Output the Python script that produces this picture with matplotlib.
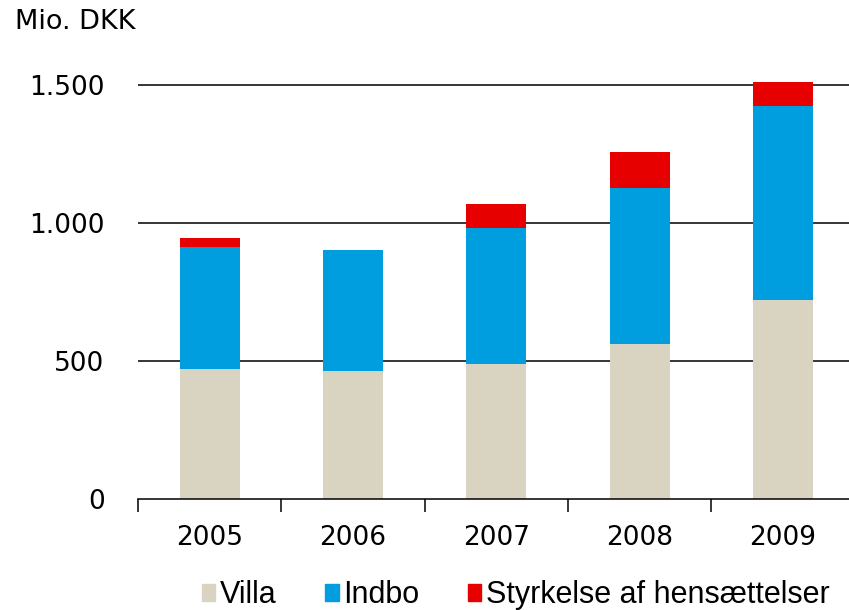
import numpy as np
import matplotlib.pyplot as plt
from matplotlib.patches import Patch

# data (Mio. DKK)
years = ['2005', '2006', '2007', '2008', '2009']
villa = [470, 463, 489, 561, 722]
indbo = [443, 439, 494, 567, 703]
styrkelse = [32, 0, 86, 129, 89]
yticks = [0, 500, 1000, 1500]
ytick_labels = ['0', '500', '1.000', '1.500']

c_villa = '#D9D3C1'
c_indbo = '#009DDF'
c_red = '#E60000'

fig = plt.figure(figsize=(8.49, 6.10), dpi=100)
ax = fig.add_axes([138 / 849, 1 - 499 / 610, 1 - 138 / 849, (499 - 57.9) / 610])

x = np.arange(len(years))
villa = np.array(villa)
indbo = np.array(indbo)
styrkelse = np.array(styrkelse)

ax.bar(x, villa, width=0.42, color=c_villa, zorder=1)
ax.bar(x, indbo, width=0.42, bottom=villa, color=c_indbo, zorder=1)
ax.bar(x, styrkelse, width=0.42, bottom=villa + indbo, color=c_red, zorder=1)

# gridlines behind bars
for v in yticks[1:]:
    ax.axhline(v, color='black', linewidth=1.1, zorder=0)

ax.set_xlim(-0.5, 4.46)
ax.set_ylim(0, 1600)

for s in ['top', 'right', 'left']:
    ax.spines[s].set_visible(False)
ax.spines['bottom'].set_linewidth(1.1)

ax.set_yticks(yticks)
ax.set_yticklabels(ytick_labels, fontsize=19)
ax.tick_params(axis='y', length=0, pad=24)

# ticks at category boundaries, labels at centers
ax.set_xticks(np.arange(-0.5, 4.5, 1.0))
ax.set_xticklabels([])
ax.tick_params(axis='x', which='major', length=9, width=1.1, direction='out')
ax.set_xticks(x, minor=True)
ax.set_xticklabels(years, minor=True, fontsize=19)
ax.tick_params(axis='x', which='minor', length=0, pad=19)

fig.text(15 / 849, 1 - 22 / 610, 'Mio. DKK', fontsize=19.5, va='center', ha='left')

handles = [Patch(color=c_villa, label='Villa'),
           Patch(color=c_indbo, label='Indbo'),
           Patch(color=c_red, label='Styrkelse af hensættelser')]
fig.legend(handles=handles, loc='center left', bbox_to_anchor=(196 / 849, 1 - 595 / 610),
           ncol=3, frameon=False, handlelength=0.43, handleheight=0.47,
           handletextpad=0.15, columnspacing=1.6, borderaxespad=0, borderpad=0.2,
           prop={'family': 'Liberation Sans', 'size': 22})

fig.savefig('out.png', dpi=100)
